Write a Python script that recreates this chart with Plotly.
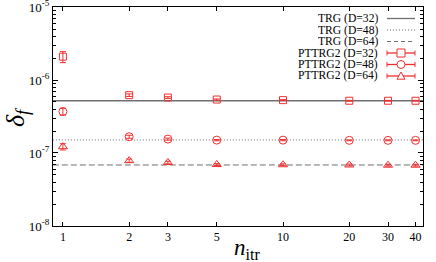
import plotly.graph_objects as go

n_itr = [1, 2, 3, 5, 10, 20, 30, 40]
trg_d32 = 5.2e-7
trg_d48 = 1.51e-7
trg_d64 = 6.85e-8
pt_d32 = [2.09e-6, 6.2e-7, 5.75e-7, 5.4e-7, 5.3e-7, 5.2e-7, 5.2e-7, 5.2e-7]
pt_d32_err = [3.6e-7, 2.5e-8, 1.5e-8, 1e-8, 8e-9, 6e-9, 6e-9, 6e-9]
pt_d48 = [3.7e-7, 1.67e-7, 1.55e-7, 1.5e-7, 1.5e-7, 1.49e-7, 1.49e-7, 1.49e-7]
pt_d48_err = [4e-8, 8e-9, 5e-9, 3e-9, 3e-9, 2e-9, 2e-9, 2e-9]
pt_d64 = [1.22e-7, 7.85e-8, 7.4e-8, 6.95e-8, 6.9e-8, 6.85e-8, 6.8e-8, 6.8e-8]
pt_d64_err = [1.2e-8, 4e-9, 3e-9, 2e-9, 2e-9, 2e-9, 2e-9, 2e-9]
legend_labels = ["TRG (D=32)", "TRG (D=48)", "TRG (D=64)",
                 "PTTRG2 (D=32)", "PTTRG2 (D=48)", "PTTRG2 (D=64)"]

FONT = "Liberation Serif"
RED = "#f03030"
GRAY = "#707070"
DOT = "1px,2px"
DASH = "6px,3px"

L, R, T, B = 53, 13, 7, 36
PW, PH = 436 - L - R, 262 - T - B


def px(xp):
    return (xp - L) / PW


def py(yp):
    return 1 - (yp - T) / PH


fig = go.Figure()
xline = [0.9, 45]
for val, dash in [(trg_d32, "solid"), (trg_d48, DOT), (trg_d64, DASH)]:
    fig.add_trace(go.Scatter(x=xline, y=[val, val], mode="lines",
                             line=dict(color=GRAY, width=1.3 if dash == "solid" else 1, dash=dash),
                             showlegend=False, hoverinfo="skip"))
for ys, err, sym, sz in [(pt_d32, pt_d32_err, "square-open", 7),
                         (pt_d48, pt_d48_err, "circle-open", 8),
                         (pt_d64, pt_d64_err, "triangle-up-open", 8)]:
    fig.add_trace(go.Scatter(x=n_itr, y=ys, mode="markers",
                             marker=dict(symbol=sym, size=sz, color=RED, line=dict(width=1, color=RED)),
                             error_y=dict(type="data", array=err, color=RED, thickness=1, width=3),
                             showlegend=False))

# manual legend (gnuplot style: text right, sample on the right)
rows_px = [18.5, 30, 41.5, 53, 64.5, 76]
styles = [("solid", None), (DOT, None), ("4px,3px", None),
          ("solid", "square"), ("solid", "circle"), ("solid", "triangle")]
x_txt = px(380)
x0 = px(387)
x1 = px(415)
for lab, ypx_, (dash, mk) in zip(legend_labels, rows_px, styles):
    yy = py(ypx_)
    fig.add_annotation(x=x_txt, y=yy, xref="paper", yref="paper", text=lab,
                       showarrow=False, xanchor="right", yanchor="middle",
                       font=dict(family=FONT, size=11.6, color="black"))
    color = GRAY if mk is None else RED
    fig.add_shape(type="line", xref="paper", yref="paper", x0=x0, x1=x1, y0=yy, y1=yy,
                  line=dict(color=color, width=1.3 if dash == "solid" else 1, dash=dash))
    if mk is not None:
        xm = (x0 + x1) / 2
        e = 2.5 / PH
        fig.add_shape(type="line", xref="paper", yref="paper", x0=x0, x1=x0, y0=yy - e, y1=yy + e,
                      line=dict(color=RED, width=1))
        fig.add_shape(type="line", xref="paper", yref="paper", x0=x1, x1=x1, y0=yy - e, y1=yy + e,
                      line=dict(color=RED, width=1))
        dx = 4 / PW
        dy = 4 / PH
        if mk == "square":
            fig.add_shape(type="rect", xref="paper", yref="paper", x0=xm - dx, x1=xm + dx,
                          y0=yy - dy, y1=yy + dy, line=dict(color=RED, width=1), fillcolor="white")
        elif mk == "circle":
            fig.add_shape(type="circle", xref="paper", yref="paper", x0=xm - dx, x1=xm + dx,
                          y0=yy - dy, y1=yy + dy, line=dict(color=RED, width=1), fillcolor="white")
        else:
            fig.add_shape(type="path", xref="paper", yref="paper",
                          path=f"M {xm-dx},{yy-dy*0.8} L {xm+dx},{yy-dy*0.8} L {xm},{yy+dy} Z",
                          line=dict(color=RED, width=1), fillcolor="white")

# axis titles as annotations
fig.add_annotation(x=px(247), y=py(249), xref="paper", yref="paper",
                   text="<i>n</i><sub>itr</sub>", showarrow=False,
                   xanchor="center", yanchor="middle",
                   font=dict(family=FONT, size=23, color="black"))
fig.add_annotation(x=px(17), y=py(117), xref="paper", yref="paper",
                   text="<i>δ<sub>f</sub></i>", showarrow=False, textangle=-90,
                   xanchor="center", yanchor="middle",
                   font=dict(family=FONT, size=26, color="black"))

fig.update_layout(
    width=436, height=262,
    margin=dict(l=L, r=R, t=T, b=B),
    plot_bgcolor="white", paper_bgcolor="white",
    font=dict(family=FONT, size=12, color="black"),
    showlegend=False,
)
fig.update_xaxes(type="log", range=[-0.045, 1.636], automargin=False,
                 tickvals=n_itr, ticktext=[str(v) for v in n_itr],
                 ticks="inside", ticklen=4, tickcolor="black",
                 showline=True, linecolor="black", linewidth=1, mirror="allticks",
                 showgrid=False, zeroline=False, ticklabeloverflow="allow",
                 tickfont=dict(family=FONT, size=12))
fig.update_yaxes(type="log", range=[-8.0005, -4.9995], automargin=False,
                 tickvals=[1e-8, 1e-7, 1e-6, 1e-5],
                 ticktext=["10<sup>-8</sup>", "10<sup>-7</sup>", "10<sup>-6</sup>", "10<sup>-5</sup>"],
                 ticks="inside", ticklen=5, tickcolor="black",
                 minor=dict(ticks="inside", ticklen=3, tickcolor="black", showgrid=False,
                            tickvals=[m * 10.0 ** e for e in (-8, -7, -6) for m in range(2, 10)]),
                 showline=True, linecolor="black", linewidth=1, mirror="allticks",
                 showgrid=False, zeroline=False, ticklabeloverflow="allow",
                 tickfont=dict(family=FONT, size=13))

fig.write_html("out.html", config={"displayModeBar": False},
               post_script="document.body.style.margin='0px';")
